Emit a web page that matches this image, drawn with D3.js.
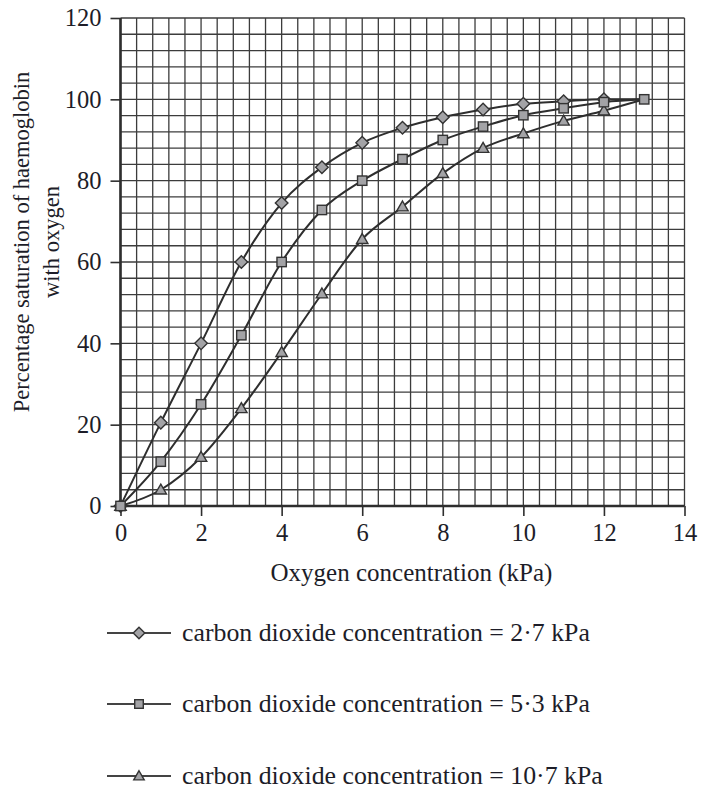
<!DOCTYPE html>
<html><head><meta charset="utf-8">
<script src="https://cdn.jsdelivr.net/npm/d3@7"></script>
<style>
html,body{margin:0;padding:0;background:#fff;}
svg{display:block;}
</style></head>
<body>
<svg id="chart" width="716" height="796"></svg>
<script>
// ---- data ----
const oxygen = [0,1,2,3,4,5,6,7,8,9,10,11,12,13];
const co2_27 = [0,20.5,40,60,74.5,83.3,89.3,93,95.6,97.5,98.9,99.5,100,100];
const co2_53 = [0,10.9,25,42,60,72.8,80,85.3,90,93.3,96.1,97.8,99.3,100];
const co2_107 = [0,4,12,24,37.8,52.2,65.6,73.6,81.8,88,91.6,94.7,97.2,100];
const xTicks = [0,2,4,6,8,10,12,14];
const yTicks = [0,20,40,60,80,100,120];
const seriesNames = ["carbon dioxide concentration = 2·7 kPa","carbon dioxide concentration = 5·3 kPa","carbon dioxide concentration = 10·7 kPa"];
const seriesMarkers = ["diamond","square","triangle"];
const seriesValues = [co2_27, co2_53, co2_107];
const markerShownUpTo = [12, 13, 12]; // point 13 coincides with the square marker

const FONT = "'Liberation Serif', 'Times New Roman', serif";
const TXT = "#1d1d28";
const svg = d3.select("#chart");
const x = d3.scaleLinear().domain([0,14]).range([120.5,684.5]);
const y = d3.scaleLinear().domain([0,120]).range([506,18]);
const ink = "#2e2e2e";

// grid
const g = svg.append("g");
const xs = d3.range(0, 35.0001, 1).map(i => i*0.4);
const ys = d3.range(0, 30.0001, 1).map(i => i*4);
g.selectAll("line.vx").data(xs).join("line")
  .attr("x1", d=>x(d)).attr("x2", d=>x(d)).attr("y1", y(0)).attr("y2", y(120))
  .attr("stroke", "#3c3c3c").attr("stroke-width", 1.3);
g.selectAll("line.hy").data(ys).join("line")
  .attr("y1", d=>y(d)).attr("y2", d=>y(d)).attr("x1", x(0)).attr("x2", x(14))
  .attr("stroke", "#3c3c3c").attr("stroke-width", 1.3);

// axes
const xAxis = d3.axisBottom(x).tickValues(xTicks).tickSize(10).tickPadding(8).tickFormat(d3.format("d"));
const yAxis = d3.axisLeft(y).tickValues(yTicks).tickSize(10).tickPadding(9).tickFormat(d3.format("d"));
const gx = svg.append("g").attr("transform", `translate(0,${y(0)})`).call(xAxis);
const gy = svg.append("g").attr("transform", `translate(${x(0)},0)`).call(yAxis);
[gx, gy].forEach(a => {
  a.attr("font-family", null).attr("font-size", null);
  a.select(".domain").remove();
  a.selectAll(".tick line").attr("stroke", ink).attr("stroke-width", 1.6);
  a.selectAll(".tick text").style("font-family", FONT).style("font-size", "24.5px").attr("fill", TXT);
});
gx.selectAll(".tick text").attr("dy", "0.71em");
svg.append("line").attr("x1", x(0)).attr("x2", x(0)).attr("y1", y(0)+1).attr("y2", y(120))
  .attr("stroke", ink).attr("stroke-width", 2.6);
svg.append("line").attr("x1", x(0)-1).attr("x2", x(14)).attr("y1", y(0)).attr("y2", y(0))
  .attr("stroke", ink).attr("stroke-width", 2.6);

// titles
svg.append("text").attr("x", (x(0)+x(14))/2 + 9).attr("y", 581).attr("text-anchor","middle")
  .style("font-family", FONT).style("font-size","25px").attr("fill", TXT).text("Oxygen concentration (kPa)");
const yt = svg.append("text").attr("transform","translate(0,242) rotate(-90)").attr("text-anchor","middle")
  .style("font-family", FONT).style("font-size","22.5px").attr("fill", TXT);
yt.append("tspan").attr("x",0).attr("y",29).text("Percentage saturation of haemoglobin");
yt.append("tspan").attr("x",0).attr("y",59).text("with oxygen");

// markers
function marker(sel, type, s) {
  if (type === "diamond") sel.append("path").attr("d", `M0,${-s*1.05}L${s*1.05},0L0,${s*1.05}L${-s*1.05},0Z`);
  else if (type === "square") sel.append("rect").attr("x",-s*0.78).attr("y",-s*0.78).attr("width",s*1.56).attr("height",s*1.56);
  else sel.append("path").attr("d", `M0,${-s*0.95}L${s*0.95},${s*0.7}L${-s*0.95},${s*0.7}Z`);
  sel.selectAll("path,rect").attr("fill","#a3a3a6").attr("stroke","#333").attr("stroke-width",1.4);
}

const line = d3.line().x((d,i)=>x(oxygen[i])).y(d=>y(d)).curve(d3.curveMonotoneX);
const order = [0,2,1];
order.forEach(k => {
  svg.append("path").attr("d", line(seriesValues[k])).attr("fill","none").attr("stroke",ink).attr("stroke-width",2);
});
order.forEach(k => {
  seriesValues[k].forEach((v,i) => {
    if (i > markerShownUpTo[k]) return;
    const m = svg.append("g").attr("transform", `translate(${x(oxygen[i])},${y(v)})`);
    marker(m, seriesMarkers[k], 6);
  });
});

// legend
const legY = [633, 704, 776];
seriesNames.forEach((name,k) => {
  const lg = svg.append("g").attr("transform", `translate(0,${legY[k]})`);
  lg.append("line").attr("x1",107).attr("x2",171).attr("y1",0).attr("y2",0).attr("stroke","#444").attr("stroke-width",1.8);
  const m = lg.append("g").attr("transform","translate(139,0)");
  marker(m, seriesMarkers[k], 5.5);
  lg.append("text").attr("x",182).attr("y",8).style("font-family", FONT).style("font-size","25.8px").attr("fill", TXT).text(name);
});
</script>
</body></html>
